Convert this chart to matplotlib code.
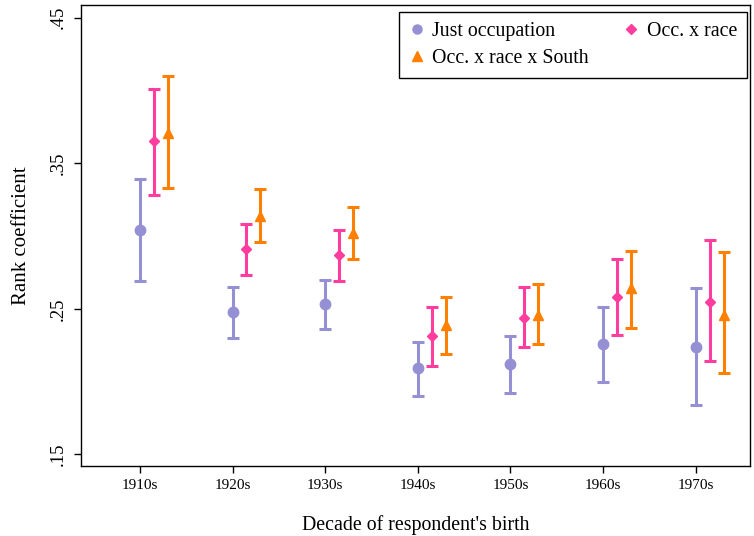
import matplotlib
matplotlib.use("Agg")
import matplotlib.pyplot as plt
from matplotlib.lines import Line2D
import numpy as np

plt.rcParams['font.family'] = ['Liberation Serif', 'DejaVu Serif']

decades = ["1910s", "1920s", "1930s", "1940s", "1950s", "1960s", "1970s"]

occ_est = [0.304, 0.248, 0.253, 0.209, 0.212, 0.226, 0.224]
occ_lo = [0.269, 0.230, 0.236, 0.190, 0.192, 0.200, 0.184]
occ_hi = [0.339, 0.265, 0.270, 0.227, 0.231, 0.251, 0.264]

race_est = [0.365, 0.291, 0.287, 0.231, 0.244, 0.258, 0.255]
race_lo = [0.328, 0.273, 0.269, 0.211, 0.224, 0.232, 0.214]
race_hi = [0.401, 0.308, 0.304, 0.251, 0.265, 0.284, 0.297]

south_est = [0.371, 0.314, 0.302, 0.239, 0.246, 0.264, 0.246]
south_lo = [0.333, 0.296, 0.284, 0.219, 0.226, 0.237, 0.206]
south_hi = [0.410, 0.332, 0.320, 0.258, 0.267, 0.290, 0.289]

labels = ["Just occupation", "Occ. x race", "Occ. x race x South"]
colors = ["#958fd4", "#ff3d9e", "#ff8000"]

fig = plt.figure(figsize=(7.54, 5.36), dpi=100)
ax = fig.add_axes([0.1074, 0.13, 0.8873, 0.8607])

x = np.arange(1, len(decades) + 1)
series = [
    (occ_est, occ_lo, occ_hi, 'o', 7.5, 0.0),
    (race_est, race_lo, race_hi, 'D', 5.5, 0.15),
    (south_est, south_lo, south_hi, '^', 7.0, 0.30),
]
for (est, lo, hi, m, ms, off), c, lab in zip(series, colors, labels):
    est = np.array(est); lo = np.array(lo); hi = np.array(hi)
    ax.errorbar(x + off, est, yerr=[est - lo, hi - est], fmt=m, color=c,
                markersize=ms, elinewidth=2.2, capsize=4, capthick=2.2,
                label=lab, zorder=3)

ax.set_xlim(0.363, 7.586)
ax.set_ylim(0.1418, 0.4587)
ax.set_xticks(x)
ax.set_xticklabels(decades, fontsize=11)
ax.set_yticks([0.15, 0.25, 0.35, 0.45])
ax.set_yticklabels([".15", ".25", ".35", ".45"], fontsize=13.4, rotation=90, va='center')
ax.tick_params(axis='both', direction='out', length=5, width=1, color='black')
ax.tick_params(axis='x', pad=4)
ax.tick_params(axis='y', pad=5.5)
for s in ax.spines.values():
    s.set_linewidth(1.0)
    s.set_color('black')

ax.set_xlabel("Decade of respondent's birth", fontsize=14.3, labelpad=16.5)
ax.set_ylabel("Rank coefficient", fontsize=15, labelpad=13.5)

leg_h = [Line2D([], [], marker=m, color=c, linestyle='none', markersize=ms)
         for (m, ms), c in zip([('o', 6.5), ('D', 5.0), ('^', 6.5)], colors)]
order = [0, 2, 1]
leg = ax.legend([leg_h[i] for i in order], [labels[i] for i in order], ncol=2,
                loc='upper right', bbox_to_anchor=(0.9955, 0.9848), borderaxespad=0,
                fontsize=14.3, frameon=True, fancybox=False, edgecolor='black',
                framealpha=1, handlelength=0.8, handletextpad=0.4, columnspacing=1.7,
                borderpad=0.5, labelspacing=0.42)
leg.get_frame().set_linewidth(1.0)

fig.savefig("out.png", dpi=100)
